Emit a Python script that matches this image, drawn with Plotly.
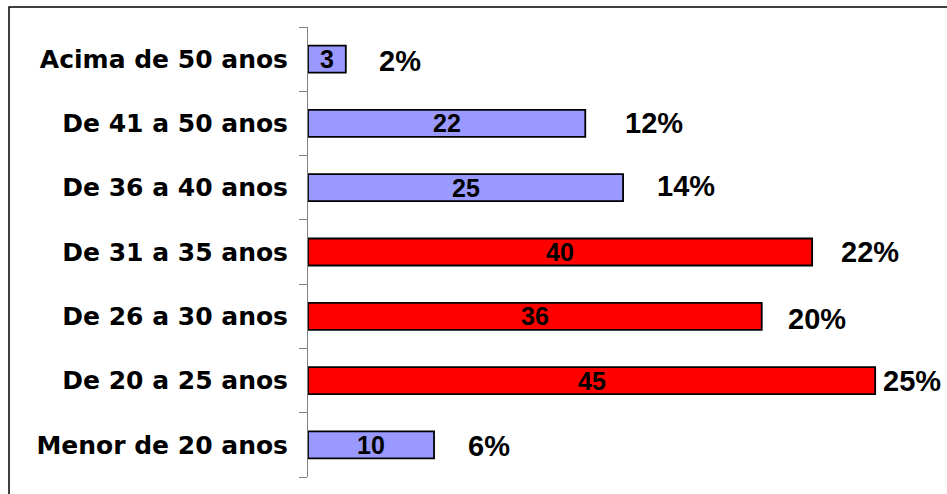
import plotly.graph_objects as go

# Age bands, listed bottom to top as drawn on the category axis
age_bands = [
    "Menor de 20 anos",
    "De 20 a 25 anos",
    "De 26 a 30 anos",
    "De 31 a 35 anos",
    "De 36 a 40 anos",
    "De 41 a 50 anos",
    "Acima de 50 anos",
]
counts = [10, 45, 36, 40, 25, 22, 3]
percents = [6, 25, 20, 22, 14, 12, 2]
highlight = [False, True, True, True, False, False, False]

# styling
BLUE = "#9999FF"
RED = "#FF0000"
bar_colors = [RED if h else BLUE for h in highlight]
pct_xshift = [32, 6, 24, 27, 32, 38, 31]
pct_yshift = [-1, 0, -3, 0, 2, 0, -2]
LABEL_FONT = dict(family="Liberation Sans, Arial", color="black", weight="bold")

W, H = 947, 494
L, R, T, B = 308, 0, 27, 17

fig = go.Figure()
fig.add_trace(go.Bar(
    y=age_bands,
    x=counts,
    orientation="h",
    width=0.42,
    marker=dict(color=bar_colors, line=dict(color="black", width=1.8)),
    hoverinfo="skip",
))

# count labels centred inside each bar
for band, c in zip(age_bands, counts):
    fig.add_annotation(
        x=c / 2, y=band, xref="x", yref="y",
        text=str(c), showarrow=False,
        xanchor="center", yanchor="middle", yshift=0,
        font=dict(size=25, **LABEL_FONT),
    )

# share labels to the right of each bar
for band, c, p, dx, dy in zip(age_bands, counts, percents, pct_xshift, pct_yshift):
    fig.add_annotation(
        x=c, y=band, xref="x", yref="y",
        text=f"{p}%", showarrow=False,
        xanchor="left", yanchor="middle",
        xshift=dx, yshift=dy,
        font=dict(size=29, **LABEL_FONT),
    )

# outer frame (top and left edges visible, the rest runs off the page)
pw, ph = W - L - R, H - T - B
fig.add_shape(
    type="rect", xref="paper", yref="paper",
    x0=(9 - L) / pw, x1=(W + 20 - L) / pw,
    y0=-(B + 20) / ph, y1=(H - B - 7) / ph,
    line=dict(color="black", width=1.5), fillcolor="rgba(0,0,0,0)",
    layer="below",
)

fig.update_layout(
    width=W, height=H,
    margin=dict(l=L, r=R, t=T, b=B, pad=0),
    paper_bgcolor="white", plot_bgcolor="white",
    showlegend=False,
    xaxis=dict(visible=False, range=[0, 50.7], fixedrange=True),
    yaxis=dict(
        type="category",
        categoryorder="array", categoryarray=age_bands,
        range=[-0.5, 6.5],
        showline=True, linecolor="#808080", linewidth=1,
        ticks="outside", tickson="boundaries", ticklen=8, tickcolor="#808080",
        showgrid=False, zeroline=False,
        tickfont=dict(family="DejaVu Sans", size=25, color="black", weight="bold"),
        ticklabelstandoff=14,
        fixedrange=True,
    ),
)

fig.write_html("out.html")
